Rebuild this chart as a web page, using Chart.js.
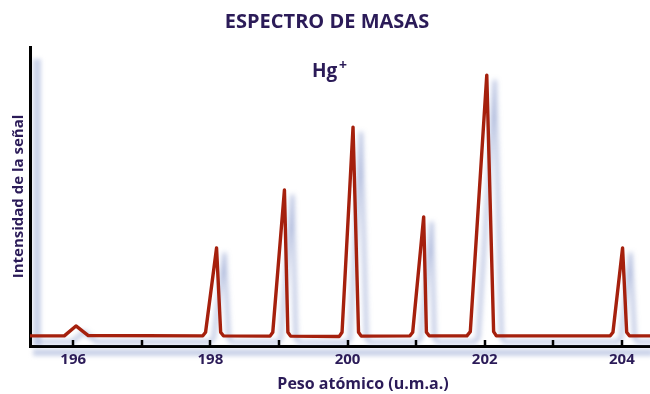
<!DOCTYPE html>
<html>
<head>
<meta charset="utf-8">
<script src="https://cdn.jsdelivr.net/npm/chart.js@4.4.1/dist/chart.umd.min.js"></script>
<style>
  html, body { margin: 0; padding: 0; background: #fff; }
  #wrap { width: 650px; height: 394px; }
</style>
</head>
<body>
<div id="wrap"><canvas id="espectro"></canvas></div>
<script>
// datos (masa en u.m.a., intensidad relativa 0-100)
const masa = [
  195.37, 195.87, 196.04, 196.22,
  197.89, 197.93, 198.09, 198.15, 198.19,
  198.87, 198.91, 199.08, 199.13, 199.17,
  199.88, 199.92, 200.08, 200.16, 200.20,
  200.91, 200.95, 201.11, 201.15, 201.19,
  201.74, 201.79, 202.03, 202.13, 202.17,
  203.83, 203.87, 204.01, 204.07, 204.11, 204.41
];
const senal = [
  3.4, 3.4, 6.7, 3.5,
  3.4, 4.6, 32.8, 4.6, 3.4,
  3.3, 4.6, 52.2, 4.6, 3.3,
  3.2, 4.6, 73.2, 4.6, 3.3,
  3.4, 4.6, 43.2, 4.6, 3.4,
  3.4, 4.8, 90.6, 4.8, 3.4,
  3.4, 4.6, 32.8, 4.6, 3.4, 3.4
];
const marcasX = [196, 197, 198, 199, 200, 201, 202, 203, 204];
const etiquetasX = ['196', '', '198', '', '200', '', '202', '', '204'];

const azulTexto = '#2b1b58';
const rojoLinea = '#a5200d';
const fuente = "'Open Sans', 'DejaVu Sans', sans-serif";

// sombras azuladas de los ejes (antes de dibujar las escalas)
const sombraEjes = {
  id: 'sombraEjes',
  beforeDraw(chart) {
    const a = chart.chartArea;
    const ctx = chart.ctx;
    ctx.save();
    ctx.filter = 'blur(2px)';
    ctx.fillStyle = 'rgba(190,200,228,0.8)';
    ctx.fillRect(a.left + 3, a.top + 12, 8, a.bottom - a.top - 12);
    ctx.fillRect(a.left + 3, a.bottom + 3, a.right - a.left, 7);
    ctx.restore();
  }
};

// sombra de la linea
const sombraLinea = {
  id: 'sombraLinea',
  beforeDatasetDraw(chart) {
    const ctx = chart.ctx;
    ctx.save();
    ctx.shadowColor = 'rgba(115,135,195,0.55)';
    ctx.shadowBlur = 5;
    ctx.shadowOffsetX = 8;
    ctx.shadowOffsetY = 6;
  },
  afterDatasetDraw(chart) {
    chart.ctx.restore();
  }
};

// marcas cortas hacia dentro, rotulo Hg+ y titulo del eje x
const extras = {
  id: 'extras',
  afterDraw(chart) {
    const ctx = chart.ctx;
    const x = chart.scales.x;
    const a = chart.chartArea;
    ctx.save();
    ctx.strokeStyle = '#000';
    ctx.lineWidth = 2.5;
    x.ticks.forEach(t => {
      const px = Math.round(x.getPixelForValue(t.value));
      ctx.beginPath();
      ctx.moveTo(px, a.bottom - 6);
      ctx.lineTo(px, a.bottom);
      ctx.stroke();
    });
    ctx.fillStyle = azulTexto;
    ctx.textBaseline = 'alphabetic';
    ctx.font = "bold 19px " + fuente;
    ctx.fillText('Hg', 312, 77);
    ctx.font = "bold 14px " + fuente;
    ctx.fillText('+', 339, 70);
    ctx.textAlign = 'center';
    ctx.textBaseline = 'middle';
    ctx.font = "bold 16px " + fuente;
    ctx.fillText('Peso atómico (u.m.a.)', 363, 384);
    ctx.restore();
  }
};

new Chart(document.getElementById('espectro'), {
  type: 'line',
  data: {
    datasets: [{
      data: masa.map((m, i) => ({ x: m, y: senal[i] })),
      borderColor: rojoLinea,
      borderWidth: 3.4,
      borderJoinStyle: 'round',
      borderCapStyle: 'round',
      pointRadius: 0,
      tension: 0,
      fill: false
    }]
  },
  options: {
    responsive: true,
    maintainAspectRatio: false,
    animation: false,
    events: [],
    layout: { padding: { left: 4, right: 0, top: 0, bottom: 20 } },
    plugins: {
      legend: { display: false },
      tooltip: { enabled: false },
      title: {
        display: true,
        text: 'ESPECTRO DE MASAS',
        color: azulTexto,
        font: { family: fuente, size: 20, weight: 'bold' },
        padding: { top: 10, bottom: 13 }
      }
    },
    scales: {
      x: {
        type: 'linear',
        min: 195.37,
        max: 204.41,
        afterBuildTicks(scale) {
          scale.ticks = marcasX.map(v => ({ value: v }));
        },
        ticks: {
          color: azulTexto,
          font: { family: fuente, size: 15, weight: 'bold' },
          padding: 5,
          maxRotation: 0,
          autoSkip: false,
          callback: (v, i) => etiquetasX[i]
        },
        grid: { display: true, drawOnChartArea: false, drawTicks: false },
        border: { display: true, color: '#000', width: 3 }
      },
      y: {
        min: 0,
        max: 100,
        ticks: { display: false },
        grid: { display: false, drawTicks: false },
        border: { display: true, color: '#000', width: 3 },
        title: {
          display: true,
          text: 'Intensidad de la señal',
          color: azulTexto,
          font: { family: fuente, size: 15, weight: 'bold' },
          padding: { top: 6, bottom: 2 }
        }
      }
    }
  },
  plugins: [sombraEjes, sombraLinea, extras]
});
</script>
</body>
</html>
